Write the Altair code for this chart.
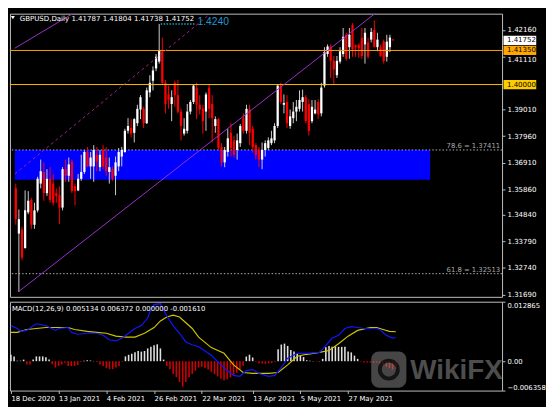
import altair as alt
import pandas as pd

# ---------------- price candles (daily GBPUSD) ----------------
bar_open = [1.3589, 1.3410, 1.3426, 1.3353, 1.3494, 1.3543, 1.3445, 1.3502, 1.3608, 1.3654,
            1.3570, 1.3627, 1.3608, 1.3570, 1.3562, 1.3513, 1.3665, 1.3639, 1.3695, 1.3597,
            1.3581, 1.3627, 1.3654, 1.3733, 1.3676, 1.3676, 1.3722, 1.3673, 1.3741, 1.3711,
            1.3654, 1.3665, 1.3639, 1.3676, 1.3715, 1.3733, 1.3817, 1.3828, 1.3809, 1.3847,
            1.3901, 1.3904, 1.3847, 1.3969, 1.4015, 1.4064, 1.4091, 1.4132, 1.4007, 1.3961,
            1.3923, 1.4007, 1.3958, 1.3893, 1.3806, 1.3817, 1.3893, 1.3931, 1.3988, 1.3920,
            1.3904, 1.3893, 1.3988, 1.3923, 1.3836, 1.3863, 1.3753, 1.3692, 1.3733, 1.3809,
            1.3779, 1.3741, 1.3768, 1.3867, 1.3817, 1.3901, 1.3825, 1.3760, 1.3741, 1.3703,
            1.3741, 1.3749, 1.3768, 1.3779, 1.3836, 1.3996, 1.3920, 1.3931, 1.3836, 1.3867,
            1.3893, 1.3904, 1.3931, 1.3950, 1.3923, 1.3855, 1.3886, 1.3931, 1.3886, 1.3996,
            1.4121, 1.4151, 1.4094, 1.4037, 1.4091, 1.4121, 1.4197, 1.4148, 1.4235, 1.4155,
            1.4157, 1.4186, 1.4159, 1.4167, 1.4178, 1.4216, 1.4148, 1.4148, 1.4170, 1.4110,
            1.4148, 1.41787]
bar_high = [1.3608, 1.3505, 1.3437, 1.3581, 1.3578, 1.3551, 1.3532, 1.3635, 1.3703, 1.3692,
            1.3665, 1.3673, 1.3646, 1.3589, 1.3597, 1.3673, 1.3703, 1.3711, 1.3703, 1.3608,
            1.3646, 1.3722, 1.3741, 1.3753, 1.3733, 1.3760, 1.3753, 1.3741, 1.3760, 1.3753,
            1.3711, 1.3676, 1.3715, 1.3749, 1.3753, 1.3825, 1.3867, 1.3863, 1.3867, 1.3920,
            1.3958, 1.3912, 1.3988, 1.4037, 1.4072, 1.4121, 1.4240, 1.4186, 1.4018, 1.3996,
            1.3977, 1.4015, 1.4018, 1.3904, 1.3867, 1.3923, 1.3939, 1.3999, 1.4007, 1.3958,
            1.3920, 1.3969, 1.3999, 1.3958, 1.3874, 1.3867, 1.3768, 1.3753, 1.3825, 1.3847,
            1.3798, 1.3806, 1.3844, 1.3886, 1.3920, 1.3920, 1.3836, 1.3768, 1.3753, 1.3771,
            1.3779, 1.3791, 1.3817, 1.3847, 1.3999, 1.4007, 1.3961, 1.3958, 1.3901, 1.3931,
            1.3939, 1.3977, 1.3980, 1.3958, 1.3942, 1.3939, 1.3939, 1.3942, 1.4007, 1.4148,
            1.4159, 1.4159, 1.4113, 1.4113, 1.4148, 1.4224, 1.4205, 1.4224, 1.4243, 1.4159,
            1.4163, 1.4224, 1.4224, 1.4186, 1.4224, 1.4254, 1.4205, 1.4159, 1.4178, 1.4197,
            1.4197, 1.41804]
bar_low = [1.3445, 1.3179, 1.3304, 1.3350, 1.3487, 1.3429, 1.3429, 1.3494, 1.3589, 1.3540,
           1.3559, 1.3532, 1.3521, 1.3532, 1.3448, 1.3502, 1.3615, 1.3615, 1.3570, 1.3521,
           1.3578, 1.3619, 1.3646, 1.3673, 1.3627, 1.3615, 1.3657, 1.3657, 1.3665, 1.3639,
           1.3608, 1.3619, 1.3562, 1.3657, 1.3676, 1.3730, 1.3806, 1.3791, 1.3771, 1.3836,
           1.3863, 1.3828, 1.3844, 1.3950, 1.3977, 1.4053, 1.4083, 1.3999, 1.3886, 1.3904,
           1.3855, 1.3912, 1.3886, 1.3779, 1.3798, 1.3806, 1.3882, 1.3923, 1.3863, 1.3882,
           1.3806, 1.3817, 1.3867, 1.3771, 1.3809, 1.3741, 1.3676, 1.3673, 1.3715, 1.3715,
           1.3711, 1.3703, 1.3753, 1.3806, 1.3806, 1.3760, 1.3730, 1.3703, 1.3673, 1.3665,
           1.3715, 1.3741, 1.3760, 1.3768, 1.3828, 1.3923, 1.3886, 1.3828, 1.3825, 1.3847,
           1.3855, 1.3893, 1.3893, 1.3847, 1.3798, 1.3847, 1.3882, 1.3863, 1.3874, 1.3988,
           1.4110, 1.4026, 1.3999, 1.4026, 1.4083, 1.4110, 1.4094, 1.4102, 1.4110, 1.4110,
           1.4106, 1.4102, 1.4083, 1.4102, 1.4167, 1.4148, 1.4132, 1.4110, 1.4083, 1.4091,
           1.4129, 1.41738]
bar_close = [1.3467, 1.3467, 1.3315, 1.3502, 1.3540, 1.3445, 1.3502, 1.3627, 1.3657, 1.3570,
             1.3627, 1.3543, 1.3532, 1.3559, 1.3513, 1.3665, 1.3639, 1.3684, 1.3578, 1.3578,
             1.3627, 1.3654, 1.3733, 1.3676, 1.3711, 1.3741, 1.3695, 1.3722, 1.3676, 1.3657,
             1.3673, 1.3627, 1.3692, 1.3733, 1.3741, 1.3817, 1.3836, 1.3806, 1.3863, 1.3904,
             1.3950, 1.3847, 1.3977, 1.4007, 1.4056, 1.4110, 1.4136, 1.4007, 1.3923, 1.3939,
             1.3950, 1.3958, 1.3893, 1.3836, 1.3825, 1.3893, 1.3931, 1.3996, 1.3920, 1.3901,
             1.3855, 1.3961, 1.3904, 1.3867, 1.3863, 1.3749, 1.3692, 1.3741, 1.3787, 1.3749,
             1.3722, 1.3779, 1.3836, 1.3817, 1.3904, 1.3809, 1.3753, 1.3722, 1.3703, 1.3741,
             1.3768, 1.3779, 1.3787, 1.3836, 1.3996, 1.3931, 1.3927, 1.3847, 1.3874, 1.3893,
             1.3912, 1.3939, 1.3950, 1.3855, 1.3817, 1.3912, 1.3901, 1.3882, 1.3988, 1.4129,
             1.4151, 1.4094, 1.4060, 1.4094, 1.4132, 1.4189, 1.4102, 1.4197, 1.4140, 1.4148,
             1.4144, 1.4113, 1.4205, 1.4110, 1.4208, 1.4148, 1.4178, 1.4113, 1.4094, 1.4170,
             1.4186, 1.41752]

# ---------------- MACD(12,26,9) ----------------
hist_vals = [0.00138, 0.00103, 0.0001, 0.0001, 0.00034, -0.00069, -0.00069, 0.00034, 0.00103, 0.00103,
             0.00103, 0.00083, 0.00034, -0.00069, -0.00138, -0.00103, -0.00069, -0.00034, -0.00103, -0.00103,
             -0.00103, -0.00083, -0.0002, 0.0001, 0.0002, 0.00014, 0.00005, -0.0002, -0.00069, -0.00103,
             -0.00152, -0.00172, -0.00172, -0.00138, -0.00103, 0.00005, 0.00103, 0.00138, 0.00159, 0.00193,
             0.0022, 0.00207, 0.0022, 0.00276, 0.0031, 0.00345, 0.00365, 0.00276, 0.00034, -0.00103,
             -0.00172, -0.00276, -0.00345, -0.00448, -0.00551, -0.00448, -0.00345, -0.00276, -0.00207, -0.00138,
             -0.0012, -0.0015, -0.0018, -0.0023, -0.0028, -0.0033, -0.0038, -0.0041, -0.0039, -0.0035,
             -0.0030, -0.0025, -0.0019, -0.0010, 0.0010, 0.0014, 0.0008, -0.0002, -0.0005, -0.0005,
             -0.0006, -0.0005, -0.0004, -0.0002, 0.0026, 0.0036, 0.0038, 0.0033, 0.0024, 0.0021,
             0.0016, 0.0012, 0.0009, 0.0002, 0.0001, 0.00003, 0.00002, -0.0002, 0.0005, 0.0030,
             0.0033, 0.0031, 0.0032, 0.0031, 0.0031, 0.0031, 0.0021, 0.0019, 0.0012, 0.0005,
             -0.0001, -0.0003, -0.0003, -0.0003, -0.0004, -0.0003, -0.0006, -0.0009, -0.0012, -0.0015,
             -0.0018, -0.00161]
macd_idx = [0, 2, 3, 5, 7, 8, 11, 14, 15, 18, 19, 21, 24, 27, 29, 31, 33, 35, 37, 39,
            41, 43, 44, 45, 47, 49, 51, 53, 55, 57, 59, 63, 66, 68, 70, 72, 74, 76, 78, 81,
            83, 85, 87, 90, 93, 97, 99, 101, 103, 105, 107, 109, 111, 114, 116, 118, 120, 121]
macd_vals = [0.00769, 0.00707, 0.00645, 0.00666, 0.00769, 0.0081, 0.00769, 0.00666, 0.00707, 0.00728,
             0.00624, 0.00583, 0.00604, 0.00604, 0.00562, 0.00459, 0.00438, 0.005, 0.00604, 0.00707,
             0.00769, 0.00934, 0.0112, 0.01224, 0.01244, 0.00976, 0.00769, 0.00604, 0.00417, 0.00356,
             0.00314, 0.00128, -0.00079, -0.00203, -0.00306, -0.00327, -0.00203, -0.00182, -0.00265, -0.00327,
             -0.00306, -0.00141, 0.00066, 0.0017, 0.0017, 0.0019, 0.00335, 0.005, 0.00562, 0.00707,
             0.00748, 0.00728, 0.00707, 0.00707, 0.00686, 0.00562, 0.005, 0.005134]
signal_idx = [0, 2, 5, 8, 11, 14, 18, 20, 24, 27, 30, 33, 36, 39, 42, 45, 47, 49, 51, 53,
              55, 57, 59, 63, 67, 70, 73, 76, 81, 84, 87, 90, 93, 97, 100, 103, 106, 109, 113, 115,
              117, 119, 121]
signal_vals = [0.00624, 0.00624, 0.00686, 0.00707, 0.00728, 0.00728, 0.00728, 0.00686, 0.00645, 0.00624,
               0.00604, 0.00542, 0.00521, 0.00521, 0.00604, 0.00728, 0.00872, 0.00955, 0.00996, 0.00955,
               0.00831, 0.00707, 0.0052, 0.00294, 0.0017, -0.00079, -0.00244, -0.00265, -0.00265, -0.00244,
               -0.00079, 0.00107, 0.00149, 0.0019, 0.00232, 0.00376, 0.00542, 0.00666, 0.00728, 0.00728,
               0.00686, 0.00645, 0.006372]

# ---------------- axes / annotations ----------------
price_ticks = [1.4216, 1.4111, 1.3901, 1.3796, 1.3691, 1.3586, 1.3484, 1.3379, 1.3274, 1.3169]
macd_ticks = [0.012865, 0.0, -0.006358]
date_idx = [0, 15, 30, 45, 60, 76, 91, 106]
date_labels = ["18 Dec 2020", "13 Jan 2021", "4 Feb 2021", "26 Feb 2021",
               "22 Mar 2021", "13 Apr 2021", "5 May 2021", "27 May 2021"]

level_prices = [1.41752, 1.41350, 1.40000]
level_labels = ["1.41752", "1.41350", "1.40000"]
level_colors = ["#ffffff", "#ffa500", "#ffcc00"]
hline_prices = [1.41350, 1.40000]
hline_colors = ["#ffa500", "#ffc400"]

fib_prices = [1.37411, 1.32513]
fib_labels = ["78.6 = 1.37411", "61.8 = 1.32513"]

zone_x = [-0.3, 132.9]
zone_y = [1.37411, 1.36232]

trend_a_x, trend_a_y = [-0.3, 23.3], [1.4144, 1.4318]
trend_b_x, trend_b_y = [1, 126], [1.3181, 1.4385]
trend_c_x, trend_c_y = [-0.3, 67.1], [1.3646, 1.4328]

peak_price = 1.4240
peak_x = [46.5, 57.7]
peak_label = "1.4240"

title_text = "GBPUSD,Daily  1.41787 1.41804 1.41738 1.41752"
macd_text = "MACD(12,26,9) 0.005134 0.006372 0.000000 -0.001610"

FONT = "DejaVu Sans"
W, H1, H2 = 504, 290, 91

x_scale = alt.Scale(domain=[-0.3, 154.4], nice=False, zero=False)
y_scale = alt.Scale(domain=[1.31596, 1.42806], nice=False, zero=False)
m_scale = alt.Scale(domain=[-0.006358, 0.012865], nice=False, zero=False)

n = len(bar_close)
df = pd.DataFrame({"i": list(range(n)), "open": bar_open, "high": bar_high,
                   "low": bar_low, "close": bar_close, "hist": hist_vals})

price_axis = alt.Axis(orient="right", values=price_ticks, format=".5f", labelColor="#ffffff",
                      tickColor="#c0c0c0", tickSize=3, labelPadding=2, labelFontSize=7.2,
                      labelFont=FONT, domain=False, grid=False, title=None,
                      labelOffset={"condition": {"test": "datum.value == 1.4111", "value": 3.5},
                                   "value": 0})
date_expr = ("[" + ",".join("'%s'" % s for s in date_labels) + "][indexof(["
             + ",".join(str(v) for v in date_idx) + "], datum.value)]")
date_axis = alt.Axis(values=date_idx, labelExpr=date_expr, labelAlign="left", labelColor="#ffffff",
                     tickColor="#c0c0c0", tickSize=3, labelPadding=1, labelFontSize=7, labelFont=FONT,
                     domain=False, grid=False, title=None, labelFlush=False)
macd_axis = alt.Axis(orient="right", values=macd_ticks,
                     labelExpr="datum.value == 0 ? '0.00' : format(datum.value, '.6f')",
                     labelColor="#ffffff", tickColor="#c0c0c0", tickSize=3, labelPadding=2,
                     labelFontSize=7, labelFont=FONT, domain=False, grid=False, title=None,
                     labelFlush=True)


def PX(field):
    return alt.X(field, scale=x_scale, axis=None)


def PY(field):
    return alt.Y(field, scale=y_scale, axis=price_axis)


def MX(field):
    return alt.X(field, scale=x_scale, axis=date_axis)


def MY(field):
    return alt.Y(field, scale=m_scale, axis=macd_axis)


zone = alt.Chart(pd.DataFrame({"x": [zone_x[0]], "x2": [zone_x[1]], "y": [zone_y[0]], "y2": [zone_y[1]]})).mark_rect(
    color="#0000ff").encode(x=PX("x:Q"), x2="x2:Q", y=PY("y:Q"), y2="y2:Q")

fib_df = pd.DataFrame({"p": fib_prices, "t": fib_labels})
fib_lines = alt.Chart(fib_df).mark_rule(color="#b4b4b4", strokeDash=[1.5, 2], strokeWidth=1).encode(
    y=PY("p:Q"))
fib_text = alt.Chart(fib_df).mark_text(align="right", baseline="bottom", dy=-1, font=FONT, fontSize=7,
                                       color="#a8a8a8").encode(
    x=alt.value(W - 2), y=PY("p:Q"), text="t:N")

up = "datum.close >= datum.open"
wicks = alt.Chart(df).mark_rule(strokeWidth=1).encode(
    x=PX("i:Q"), y=PY("low:Q"), y2="high:Q",
    color=alt.condition(up, alt.value("#d0d0d0"), alt.value("#ff0000")))
bodies = alt.Chart(df).mark_bar(size=2.3).encode(
    x=PX("i:Q"), y=PY("open:Q"), y2="close:Q",
    color=alt.condition(up, alt.value("#ffffff"), alt.value("#ff0000")))

hl_df = pd.DataFrame({"p": hline_prices, "c": hline_colors})
hlines = alt.Chart(hl_df).mark_rule(strokeWidth=1).encode(
    y=PY("p:Q"), color=alt.Color("c:N", scale=None))


def trend(xs, ys, color, dash=None):
    kw = dict(color=color, strokeWidth=1, clip=True)
    if dash:
        kw["strokeDash"] = dash
    return alt.Chart(pd.DataFrame({"x": xs, "y": ys})).mark_line(**kw).encode(
        x=PX("x:Q"), y=PY("y:Q"))


trend_a = trend(trend_a_x, trend_a_y, "#9a32cd")
trend_b = trend(trend_b_x, trend_b_y, "#9a32cd")
trend_c = trend(trend_c_x, trend_c_y, "#a4238f", [3, 3])

peak_line = alt.Chart(pd.DataFrame({"x": [peak_x[0]], "x2": [peak_x[1]], "p": [peak_price]})).mark_rule(
    color="#1aa0c0", strokeDash=[1.5, 1.5], strokeWidth=1.5).encode(
    x=PX("x:Q"), x2="x2:Q", y=PY("p:Q"))
peak_text = alt.Chart(pd.DataFrame({"x": [peak_x[1] + 0.6], "p": [peak_price], "t": [peak_label]})).mark_text(
    align="left", baseline="alphabetic", dy=1, font="Liberation Sans", fontSize=10.5, color="#2196d3").encode(
    x=PX("x:Q"), y=PY("p:Q"), text="t:N")

lv_df = pd.DataFrame({"p": level_prices, "t": level_labels, "c": level_colors})
boxes = alt.Chart(lv_df).mark_rule(strokeWidth=9.5).encode(
    x=alt.value(W + 1.5), x2=alt.value(W + 35), y=PY("p:Q"),
    color=alt.Color("c:N", scale=None))
box_text = alt.Chart(lv_df).mark_text(align="left", baseline="middle", font=FONT, fontSize=7.2,
                                      color="#000000").encode(
    x=alt.value(W + 5), y=PY("p:Q"), text="t:N")

title_df = pd.DataFrame({"t": [title_text]})
tri = alt.Chart(title_df).mark_point(shape="triangle-down", filled=True, color="#ffffff", size=16,
                                     opacity=1).encode(x=alt.value(3), y=alt.value(4))
title = alt.Chart(title_df).mark_text(align="left", baseline="top", font=FONT, fontSize=7.2,
                                      color="#ffffff").encode(x=alt.value(10), y=alt.value(1), text="t:N")

main = alt.layer(zone, fib_lines, fib_text, wicks, bodies, hlines, trend_a, trend_b, trend_c,
                 peak_line, peak_text, boxes, box_text, tri, title).properties(width=W, height=H1)

# ---------------- MACD panel ----------------
hist = alt.Chart(df).mark_rule(strokeWidth=1.6).encode(
    x=MX("i:Q"), y=MY("hist:Q"), y2=alt.Y2(datum=0),
    color=alt.condition("datum.hist >= 0", alt.value("#e0e0e0"), alt.value("#d00000")))

sig_line = alt.Chart(pd.DataFrame({"x": signal_idx, "v": signal_vals})).mark_line(
    color="#cfc400", strokeWidth=1.2).encode(x=MX("x:Q"), y=MY("v:Q"))
macd_line = alt.Chart(pd.DataFrame({"x": macd_idx, "v": macd_vals})).mark_line(
    color="#1414ff", strokeWidth=1.2).encode(x=MX("x:Q"), y=MY("v:Q"))

macd_title = alt.Chart(pd.DataFrame({"t": [macd_text]})).mark_text(
    align="left", baseline="middle", font=FONT, fontSize=7, color="#ffffff").encode(
    x=alt.value(2), y=alt.value(7), text="t:N")

wm_df = pd.DataFrame({"t": ["WikiFX"]})
wm_icon = alt.Chart(wm_df).mark_rect(cornerRadius=8, color="#8c8c8c", opacity=0.5).encode(
    x=alt.value(370), x2=alt.value(406), y=alt.value(51), y2=alt.value(88))
wm_ring = alt.Chart(wm_df).mark_point(shape="circle", filled=False, color="#000000", strokeWidth=4,
                                      size=340, opacity=0.7).encode(x=alt.value(388), y=alt.value(69.5))
wm_text = alt.Chart(wm_df).mark_text(align="left", baseline="middle", font="Liberation Sans",
                                     fontWeight="bold", fontSize=28.5, color="#8c8c8c", opacity=0.55).encode(
    x=alt.value(410), y=alt.value(70), text="t:N")

macd = alt.layer(hist, sig_line, macd_line, macd_title, wm_icon, wm_ring, wm_text).properties(width=W, height=H2)

chart = alt.vconcat(main, macd, spacing=2).configure(
    background="#000000", padding={"left": 0, "top": 0, "right": 0, "bottom": 0}
).configure_view(stroke="#c0c0c0", strokeWidth=1)

chart.save("out.html", embed_options={"renderer": "svg", "actions": False})
